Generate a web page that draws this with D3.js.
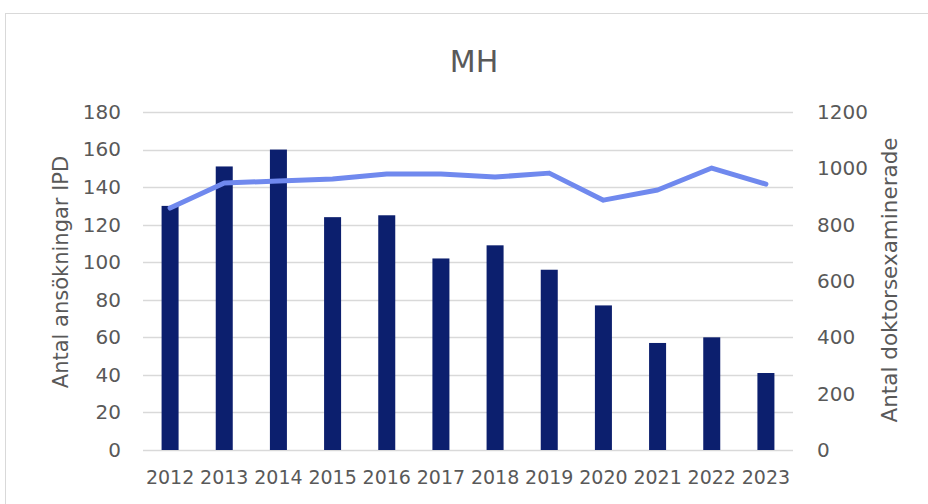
<!DOCTYPE html>
<html>
<head>
<meta charset="utf-8">
<script src="https://cdn.jsdelivr.net/npm/d3@7"></script>
<style>
  body { margin: 0; background: #fff; }
  text { font-family: "DejaVu Sans", sans-serif; fill: #595959; }
</style>
</head>
<body>
<div id="chart-area"></div>
<script>
// data
var years = ["2012","2013","2014","2015","2016","2017","2018","2019","2020","2021","2022","2023"];
var applications = [130, 151, 160, 124, 125, 102, 109, 96, 77, 57, 60, 41];
var doctorates = [859, 948, 955, 962, 980, 980, 969, 983, 887, 923, 1001, 944];
var leftTicks = [0, 20, 40, 60, 80, 100, 120, 140, 160, 180];
var rightTicks = [0, 200, 400, 600, 800, 1000, 1200];

var W = 928, H = 504;
var margin = {left: 143, right: 135, top: 112, bottom: 54};
var width = W - margin.left - margin.right;
var height = H - margin.top - margin.bottom;

var svg = d3.select("#chart-area").append("svg")
  .attr("width", W).attr("height", H);

// chart frame
svg.append("rect")
  .attr("x", 5.5).attr("y", 13.5)
  .attr("width", W).attr("height", H)
  .attr("fill", "none").attr("stroke", "#d9d9d9");

var g = svg.append("g")
  .attr("transform", "translate(" + margin.left + "," + margin.top + ")");

var x = d3.scaleBand().domain(years).range([0, width]).paddingInner(0.686).paddingOuter(0.343);
var yL = d3.scaleLinear().domain([0, 180]).range([height, 0]);
var yR = d3.scaleLinear().domain([0, 1200]).range([height, 0]);

// gridlines
g.append("g").selectAll("line").data(leftTicks).join("line")
  .attr("x1", 0).attr("x2", width)
  .attr("y1", d => Math.round(yL(d)) + 0.5).attr("y2", d => Math.round(yL(d)) + 0.5)
  .attr("stroke", "#d9d9d9").attr("stroke-width", 1.5);

// bars
g.append("g").selectAll("rect").data(applications).join("rect")
  .attr("x", (d, i) => x(years[i]))
  .attr("width", x.bandwidth())
  .attr("y", d => yL(d))
  .attr("height", d => yL(0) - yL(d))
  .attr("fill", "#0c1f6e");

// line on the right axis
var line = d3.line()
  .x((d, i) => x(years[i]) + x.bandwidth() / 2)
  .y(d => yR(d));

g.append("path").datum(doctorates)
  .attr("d", line)
  .attr("fill", "none")
  .attr("stroke", "#7089ee")
  .attr("stroke-width", 5)
  .attr("stroke-linejoin", "round")
  .attr("stroke-linecap", "round");

// axes
var leftAxis = g.append("g")
  .call(d3.axisLeft(yL).tickValues(leftTicks).tickSize(0).tickPadding(22));
var rightAxis = g.append("g")
  .attr("transform", "translate(" + width + ",0)")
  .call(d3.axisRight(yR).tickValues(rightTicks).tickFormat(d3.format("d")).tickSize(0).tickPadding(24));
var bottomAxis = g.append("g")
  .attr("transform", "translate(0," + height + ")")
  .call(d3.axisBottom(x).tickSize(0).tickPadding(21));

[leftAxis, rightAxis].forEach(a => {
  a.select(".domain").remove();
  a.selectAll("text").attr("font-size", "20px").style("fill", "#595959")
    .style("font-family", "'DejaVu Sans', sans-serif");
});
bottomAxis.select(".domain").remove();
bottomAxis.selectAll("text").attr("font-size", "19px").style("fill", "#595959")
  .style("font-family", "'DejaVu Sans', sans-serif");

// title + axis labels
svg.append("text")
  .attr("x", 474).attr("y", 72)
  .attr("text-anchor", "middle")
  .attr("font-size", "30px")
  .text("MH");

svg.append("text")
  .attr("transform", "translate(68,272) rotate(-90)")
  .attr("text-anchor", "middle")
  .attr("font-size", "21px")
  .text("Antal ansökningar IPD");

svg.append("text")
  .attr("transform", "translate(897,280) rotate(-90)")
  .attr("text-anchor", "middle")
  .attr("font-size", "21.5px")
  .text("Antal doktorsexaminerade");
</script>
</body>
</html>
